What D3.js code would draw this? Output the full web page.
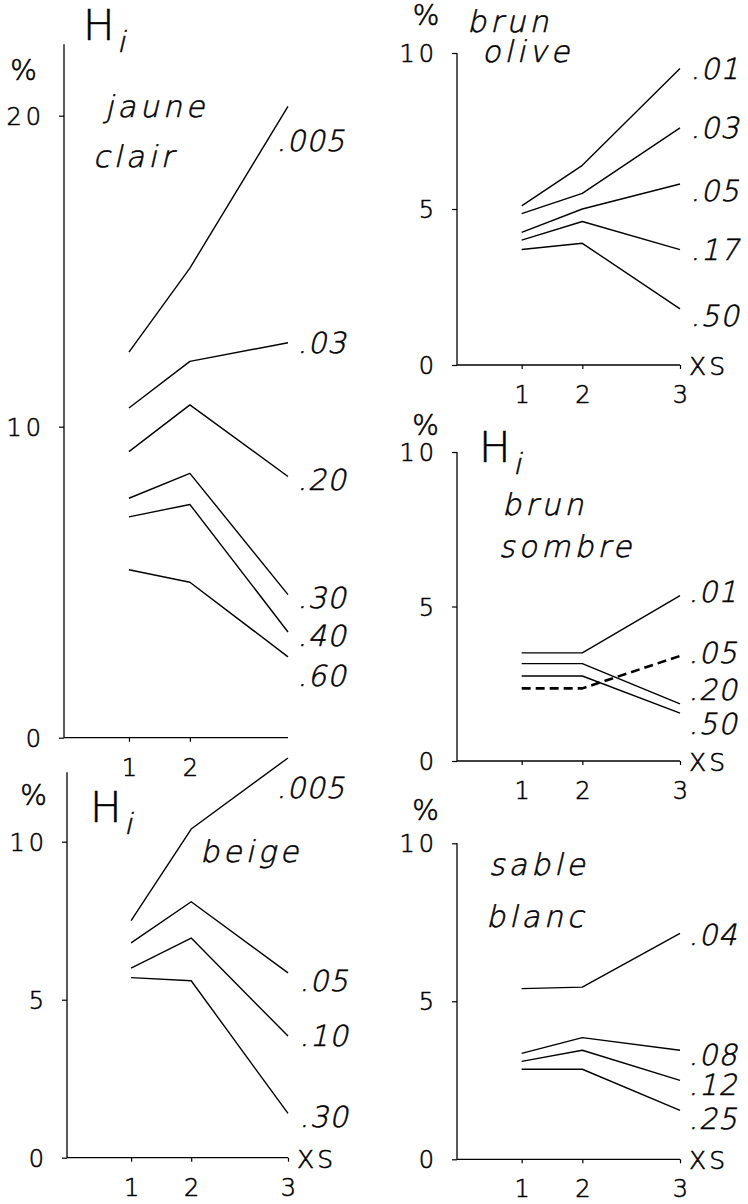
<!DOCTYPE html>
<html>
<head>
<meta charset="utf-8">
<script src="https://cdn.jsdelivr.net/npm/d3@7"></script>
<style>
  html, body { margin: 0; padding: 0; background: #fff; }
  svg { display: block; }
  text { font-family: "DejaVu Sans", "Liberation Sans", sans-serif; fill: #000; font-weight: 200; stroke: #000; stroke-width: 0.55px; }
</style>
</head>
<body>
<svg id="chart" width="748" height="1204"></svg>
<script>
// ---------- DATA ----------
const xsValues = [1, 2, 3];

// jaune clair
const jauneTitle = ["jaune", "clair"];
const jauneSeries = [".005", ".03", ".20", ".30", ".40", ".60"];
const jauneValues = [
  [12.4, 15.1, 20.3],
  [10.6, 12.1, 12.7],
  [9.2, 10.7, 8.4],
  [7.7, 8.5, 4.6],
  [7.1, 7.5, 3.4],
  [5.4, 5.0, 2.6]
];
const jauneLabelAt = [19.2, 12.7, 8.3, 4.5, 3.3, 2.0];
const jauneYTicks = [0, 10, 20];
const jauneXTicks = [1, 2];

// brun olive
const oliveTitle = ["brun", "olive"];
const oliveSeries = [".01", ".03", ".05", ".17", ".50"];
const oliveValues = [
  [5.1, 6.4, 9.5],
  [4.85, 5.5, 7.6],
  [4.25, 5.0, 5.8],
  [4.0, 4.6, 3.7],
  [3.7, 3.9, 1.8]
];
const oliveLabelAt = [9.5, 7.6, 5.6, 3.7, 1.6];
const oliveYTicks = [0, 5, 10];
const oliveXTicks = [1, 2, 3];

// brun sombre
const sombreTitle = ["brun", "sombre"];
const sombreSeries = [".01", ".05", ".20", ".50"];
const sombreValues = [
  [3.5, 3.5, 5.35],
  [2.35, 2.35, 3.4],
  [3.15, 3.15, 1.85],
  [2.75, 2.75, 1.55]
];
const sombreDashed = [false, true, false, false];
const sombreLabelAt = [5.5, 3.5, 2.3, 1.2];
const sombreYTicks = [0, 5, 10];
const sombreXTicks = [1, 2, 3];

// beige
const beigeTitle = ["beige"];
const beigeSeries = [".005", ".05", ".10", ".30"];
const beigeValues = [
  [7.5, 10.4, 12.65],
  [6.8, 8.1, 5.85],
  [6.0, 6.95, 3.85],
  [5.7, 5.6, 1.4]
];
const beigeLabelAt = [11.7, 5.6, 3.85, 1.3];
const beigeYTicks = [0, 5, 10];
const beigeXTicks = [1, 2, 3];

// sable blanc
const sableTitle = ["sable", "blanc"];
const sableSeries = [".04", ".08", ".12", ".25"];
const sableValues = [
  [5.4, 5.45, 7.15],
  [3.35, 3.85, 3.45],
  [3.1, 3.45, 2.5],
  [2.85, 2.85, 1.55]
];
const sableLabelAt = [7.1, 3.3, 2.35, 1.3];
const sableYTicks = [0, 5, 10];
const sableXTicks = [1, 2, 3];

const yUnit = "%";
const xUnit = "XS";

// ---------- LAYOUT ----------
const panels = [
  { title: jauneTitle, series: jauneSeries, values: jauneValues, labelAt: jauneLabelAt,
    yTicks: jauneYTicks, xTicks: jauneXTicks, dashed: null,
    ax: 64, xEnd: 288, y0: 737.7, k: 31.1, yTop: 22.3, xsLabel: false,
    pct: [23.5, 80], hi: [83, 40], titlePos: [[105, 117], [93, 167]],
    labelDx: [-9, 12, 12, 12, 12, 12] },
  { title: oliveTitle, series: oliveSeries, values: oliveValues, labelAt: oliveLabelAt,
    yTicks: oliveYTicks, xTicks: oliveXTicks, dashed: null,
    ax: 457, xEnd: 680, y0: 365, k: 31.2, yTop: 10, xsLabel: true,
    pct: [426, 25], hi: null, titlePos: [[467, 32], [482, 62]],
    labelDx: [13, 13, 13, 13, 13] },
  { title: sombreTitle, series: sombreSeries, values: sombreValues, labelAt: sombreLabelAt,
    yTicks: sombreYTicks, xTicks: sombreXTicks, dashed: sombreDashed,
    ax: 457, xEnd: 680, y0: 761, k: 30.9, yTop: 10, xsLabel: true,
    pct: [425.5, 435], hi: [479, 462], titlePos: [[502, 515], [499, 557]],
    labelDx: [11, 11, 11, 11] },
  { title: beigeTitle, series: beigeSeries, values: beigeValues, labelAt: beigeLabelAt,
    yTicks: beigeYTicks, xTicks: beigeXTicks, dashed: null,
    ax: 67, xEnd: 288, y0: 1157.7, k: 31.6, yTop: 12.2, xsLabel: true,
    pct: [33.5, 805], hi: [90, 822], titlePos: [[200, 862]],
    labelDx: [-9, 14, 14, 14] },
  { title: sableTitle, series: sableSeries, values: sableValues, labelAt: sableLabelAt,
    yTicks: sableYTicks, xTicks: sableXTicks, dashed: null,
    ax: 457, xEnd: 680, y0: 1159.3, k: 31.6, yTop: 10, xsLabel: true,
    pct: [425.5, 820], hi: null, titlePos: [[489, 875], [486, 927]],
    labelDx: [11, 11, 11, 11] }
];

const svg = d3.select("#chart");
svg.append("rect").attr("width", 748).attr("height", 1204).attr("fill", "#fff");

const XFRAC = [0, 0.29, 0.562, 1];
const LW = 1.4;
const SKEW = -13;

// text helper: thin face, slanted by skew for "italic"
function addText(g, x, y, str, size, italic, extra) {
  const t = g.append("text")
    .attr("transform", `translate(${x},${y})` + (italic ? ` skewX(${SKEW})` : ""))
    .attr("font-size", size).text(str);
  if (extra) Object.entries(extra).forEach(([k, v]) => t.attr(k, v));
  return t;
}

panels.forEach(p => {
  const g = svg.append("g");
  const w = p.xEnd - p.ax;
  const x = d3.scaleLinear().domain([0, 1, 2, 3]).range(XFRAC.map(f => p.ax + f * w));
  const y = d3.scaleLinear().domain([0, 10]).range([p.y0, p.y0 - 10 * p.k]);

  // y axis
  const yAxis = d3.axisLeft(y).tickValues(p.yTicks).tickSize(5).tickPadding(14)
    .tickFormat(d3.format("d"));
  const ya = g.append("g").attr("transform", `translate(${p.ax},0)`).call(yAxis);
  ya.attr("font-family", null).attr("font-size", null);
  ya.select(".domain").remove();
  ya.selectAll(".tick line").attr("stroke", "#000").attr("stroke-width", 1.2);
  ya.selectAll(".tick text").attr("font-size", 24)
    .attr("letter-spacing", 4).attr("dy", "0.36em").attr("fill", "#000");
  g.append("line").attr("x1", p.ax).attr("x2", p.ax)
    .attr("y1", y(0)).attr("y2", y(p.yTop))
    .attr("stroke", "#000").attr("stroke-width", 1.3);

  // x axis
  const xAxis = d3.axisBottom(x).tickValues(p.xTicks).tickSize(4).tickPadding(17)
    .tickFormat(d3.format("d"));
  const xa = g.append("g").attr("transform", `translate(0,${p.y0})`).call(xAxis);
  xa.attr("font-family", null).attr("font-size", null);
  xa.select(".domain").remove();
  xa.selectAll(".tick line").attr("stroke", "#000").attr("stroke-width", 1.2);
  xa.selectAll(".tick text").attr("font-size", 24).attr("fill", "#000");
  g.append("line").attr("x1", p.ax).attr("x2", p.xEnd)
    .attr("y1", p.y0).attr("y2", p.y0)
    .attr("stroke", "#000").attr("stroke-width", 1.3);

  if (p.xsLabel) {
    addText(g, p.xEnd + 9, p.y0 + 10, xUnit, 25, false, { "letter-spacing": 3 });
  }

  // % unit
  addText(g, p.pct[0], p.pct[1], yUnit, 28, false, { "text-anchor": "middle" });

  // H_i
  if (p.hi) {
    addText(g, p.hi[0], p.hi[1], "H", 42, false);
    addText(g, p.hi[0] + 34, p.hi[1] + 12, "i", 29, true);
  }

  // title words
  p.title.forEach((word, i) => {
    addText(g, p.titlePos[i][0], p.titlePos[i][1], word, 30, true, { "letter-spacing": 4 });
  });

  // lines
  const line = d3.line().x((d, i) => x(xsValues[i])).y(d => y(d));
  p.values.forEach((vals, si) => {
    const dashed = p.dashed && p.dashed[si];
    g.append("path").attr("d", line(vals)).attr("fill", "none")
      .attr("stroke", "#000")
      .attr("stroke-width", dashed ? 2.6 : LW)
      .attr("stroke-dasharray", dashed ? "9,5" : null)
      .attr("stroke-linejoin", "round");
  });

  // series labels
  p.series.forEach((lab, si) => {
    addText(g, x(3) + p.labelDx[si], y(p.labelAt[si]), lab, 29, true,
      { "dy": "0.36em", "letter-spacing": 1 });
  });
});
</script>
</body>
</html>
